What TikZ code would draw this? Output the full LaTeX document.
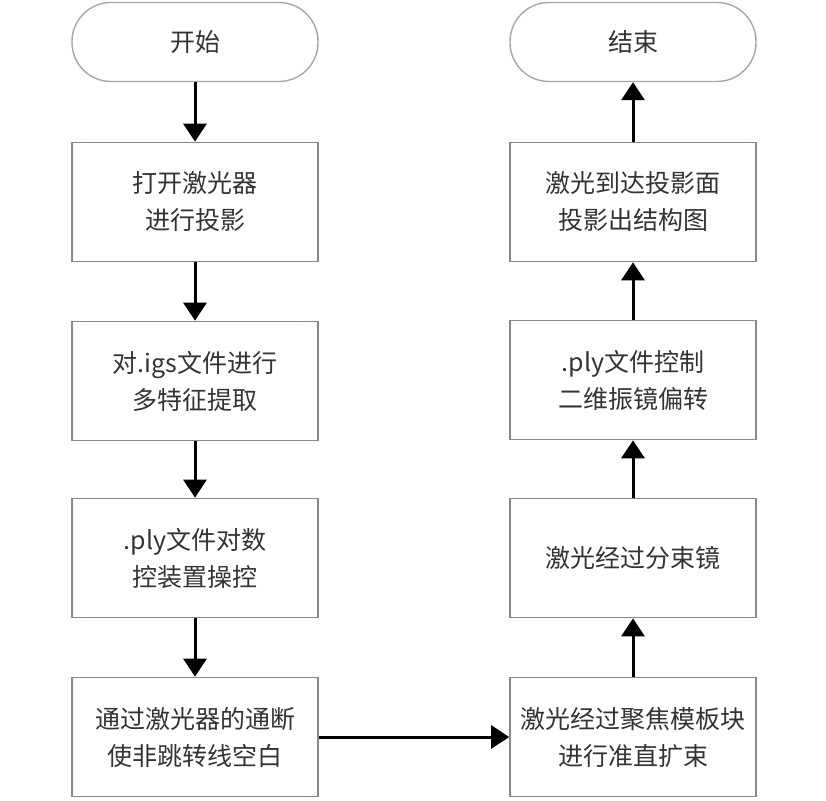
\documentclass[tikz,border=0pt]{standalone}
\usepackage{fontspec}
\setmainfont{Noto Sans CJK SC}
\usetikzlibrary{arrows.meta,positioning}
\definecolor{boxgray}{HTML}{7F8A95}
\definecolor{textgray}{HTML}{333333}

\begin{document}
\begin{tikzpicture}[x=1pt, y=-1pt,
    flowTerminalStyle/.style={draw=boxgray!75, line width=1.4pt, rounded corners=39pt,
        minimum width=246pt, minimum height=79pt, text=textgray,
        font=\fontsize{25}{37}\selectfont},
    flowBoxStyle/.style={draw=boxgray, line width=1.6pt, minimum width=246pt,
        minimum height=119pt, align=center, inner sep=2pt, text=textgray,
        font=\fontsize{25}{37}\selectfont},
    flowArrowStyle/.style={line width=3pt, -{Triangle[width=23pt,length=18pt]}}
]
    \useasboundingbox (0,0) rectangle (826,800);

    % 左列
    \node[flowTerminalStyle] (start) at (195,42) {开始};
    \node[flowBoxStyle] (laserOn) at (195,202) {打开激光器\\进行投影};
    \node[flowBoxStyle] (igsFeat) at (195,381) {对.igs文件进行\\多特征提取};
    \node[flowBoxStyle] (plyCtrl) at (195,558) {.ply文件对数\\控装置操控};
    \node[flowBoxStyle] (laserSwitch) at (195,737) {通过激光器的通断\\使非跳转线空白};

    % 右列
    \node[flowTerminalStyle] (finish) at (633,42) {结束};
    \node[flowBoxStyle] (projOut) at (633,202) {激光到达投影面\\投影出结构图};
    \node[flowBoxStyle] (galvo) at (633,380) {.ply文件控制\\二维振镜偏转};
    \node[flowBoxStyle] (splitter) at (633,558) {激光经过分束镜};
    \node[flowBoxStyle] (focus) at (633,737) {激光经过聚焦模板块\\进行准直扩束};

    % 连线
    \draw[flowArrowStyle] (start) -- (laserOn);
    \draw[flowArrowStyle] (laserOn) -- (igsFeat);
    \draw[flowArrowStyle] (igsFeat) -- (plyCtrl);
    \draw[flowArrowStyle] (plyCtrl) -- (laserSwitch);
    \draw[flowArrowStyle] (laserSwitch) -- (focus);
    \draw[flowArrowStyle] (focus) -- (splitter);
    \draw[flowArrowStyle] (splitter) -- (galvo);
    \draw[flowArrowStyle] (galvo) -- (projOut);
    \draw[flowArrowStyle] (projOut) -- (finish);
\end{tikzpicture}
\end{document}
